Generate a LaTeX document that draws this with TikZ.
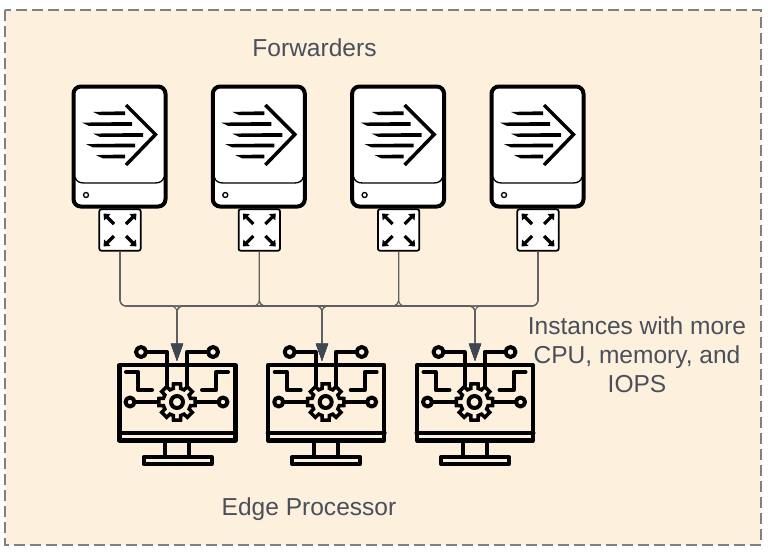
\documentclass[tikz,border=0pt]{standalone}
\usepackage{fontspec}
\setmainfont{Liberation Sans}
\usetikzlibrary{arrows.meta,calc}
\definecolor{panelfill}{HTML}{FDF0DC}
\definecolor{paneledge}{HTML}{808080}
\definecolor{labelink}{HTML}{4A4F5C}
\definecolor{wireink}{HTML}{5F5F5F}
\definecolor{tipink}{HTML}{3F4754}
\tikzset{
  x=0.75pt,y=-0.75pt,
  panel/.style={fill=panelfill,draw=paneledge,line width=1.1pt,dash pattern=on 8.25pt off 3.75pt},
  chassis/.style={draw=black,fill=white,line width=3pt,rounded corners=5.5pt},
  switchbox/.style={draw=black,fill=white,line width=1.3pt,rounded corners=1.5pt,minimum width=31pt,minimum height=31pt,inner sep=0pt},
  wire/.style={draw=wireink,line width=0.8pt,rounded corners=4.5pt},
  feed/.style={wire,-{Triangle[length=13pt,width=9pt,color=tipink]}},
  icon/.style={draw=black,line width=3pt,line cap=round,line join=round},
  caption/.style={text=labelink,font=\fontsize{18.4pt}{21.7pt}\selectfont,align=center,inner sep=0pt},
  outarrow/.style={draw=black,line width=2.4pt,-{Triangle[length=4pt,width=6.5pt]}},
}
% One forwarder: chassis, forwarding glyph and its network port
\newcommand{\forwarder}[2]{%
  \begin{scope}[shift={(#1,0)}]
    \draw[chassis] (73.5,86.5) rectangle (165.5,206.5);
    \draw[line width=1pt] (75,177) .. controls (76,181) and (79,183) .. (84,183) -- (155,183) .. controls (160,183) and (163,181) .. (164,177);
    \draw[line width=1pt] (86,195) circle (2.5);
    \foreach \xa/\xb/\yy in {93/125/113.3, 82/132/124, 93/143/135, 86/135/145.5, 96/125/156.5}
      \fill (\xa,\yy-1.4) -- (\xb,\yy-2) -- (\xb,\yy+1.9) -- (\xa+7,\yy+1.9) -- cycle;
    \draw[line width=2.6pt,line join=miter] (126,105) -- (155.5,134.5) -- (126,165);
  \end{scope}
  \node[switchbox] (#2) at (120+#1,230) {};
  \foreach \sx/\sy in {-1/-1,1/-1,-1/1,1/1}
    \draw[outarrow] ($(#2)+(\sx*6,\sy*6)$) -- ($(#2)+(\sx*16.5,\sy*16.5)$);
}
% One edge processor: monitor with a gear and circuit traces
\newcommand{\processor}[1]{%
  \begin{scope}[shift={(#1,0)}]
    \draw[icon,line width=3.1pt] (119.5,365) rectangle (235.5,440.5);
    \draw[icon] (119,432.5) -- (236,432.5);
    \draw[icon] (165,442) -- (165,456) (189,442) -- (189,456);
    \draw[icon] (143.5,457) rectangle (211.5,464);
    \draw[icon] (126,372) -- (138,372) -- (138,390) -- (152,390);
    \draw[icon] (228,372) -- (216,372) -- (216,390) -- (202,390);
    \draw[icon] (146,352) -- (167,352) -- (167,386);
    \draw[icon] (208,352) -- (187,352) -- (187,386);
    \draw[icon] (141,352) circle (5);
    \draw[icon] (213,352) circle (5);
    \draw[icon] (134.5,402) -- (158,402);
    \draw[icon] (196,402) -- (218.5,402);
    \draw[icon] (130,402) circle (4.5);
    \draw[icon] (223,402) circle (4.5);
    \draw[icon] (177,402) circle (6);
    \draw[icon,line width=2.6pt,line join=miter]
      ($(177,402)+(-11:18.5)$)
      \foreach \t in {0,45,...,315} {
        -- ($(177,402)+(\t-11:18.5)$) -- ($(177,402)+(\t+11:18.5)$)
        -- ($(177,402)+(\t+15:14)$) -- ($(177,402)+(\t+30:14)$)
      } -- cycle;
  \end{scope}
}
\begin{document}
\begin{tikzpicture}
  \useasboundingbox (0,0) rectangle (774,554);
  \draw[panel] (5,10) rectangle (761,545);

  \node[caption] (fwdlabel) at (314.5,48) {Forwarders};
  \node[caption] (edgelabel) at (309,509) {Edge Processor};
  \node[caption] (specs) at (637,354.5) {Instances with more\\CPU, memory, and\\IOPS};

  \forwarder{0}{swa}
  \forwarder{139.3}{swb}
  \forwarder{278.6}{swc}
  \forwarder{418}{swd}

  \processor{0}
  \processor{148.7}
  \processor{297.5}

  % Entry points above the three monitors
  \coordinate (proca) at (177,361);
  \coordinate (procb) at (322,361);
  \coordinate (procc) at (475,361);

  % Every forwarder reaches every processor over a shared bus
  \foreach \src in {swa,swb,swc,swd}
    \foreach \dst in {proca,procb,procc}
      \path[feed] (\src.south) -- (\src.south |- 0,306) -- (\dst |- 0,306) -- (\dst);
\end{tikzpicture}
\end{document}
